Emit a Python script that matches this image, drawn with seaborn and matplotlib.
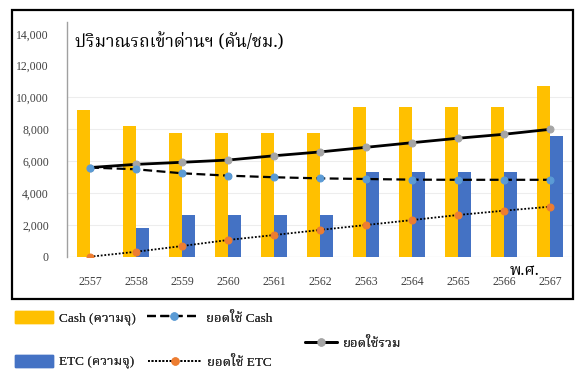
import numpy as np
import pandas as pd
import matplotlib
matplotlib.use("Agg")
import matplotlib.pyplot as plt
import seaborn as sns
from matplotlib import font_manager as fm
from matplotlib.ft2font import FT2Font
from matplotlib.patches import Rectangle
from matplotlib.lines import Line2D

# ---------------- data ----------------
years = ["2557", "2558", "2559", "2560", "2561", "2562", "2563", "2564", "2565", "2566", "2567"]
cash_capacity = [9200, 8200, 7800, 7800, 7800, 7800, 9400, 9400, 9400, 9400, 10700]
etc_capacity = [0, 1800, 2600, 2600, 2600, 2600, 5300, 5300, 5300, 5300, 7600]
cash_usage = [5600, 5490, 5240, 5090, 4990, 4920, 4880, 4840, 4830, 4830, 4830]
etc_usage = [0, 310, 670, 1050, 1360, 1680, 1990, 2300, 2620, 2890, 3140]
total_usage = [5600, 5800, 5930, 6070, 6340, 6580, 6870, 7160, 7440, 7690, 8000]
yticks = [0, 2000, 4000, 6000, 8000, 10000, 12000, 14000]

title = "ปริมาณรถเข้าด่านฯ (คัน/ชม.)"
lbl_cash_cap = "Cash (ความจุ)"
lbl_etc_cap = "ETC (ความจุ)"
lbl_cash_use = "ยอดใช้ Cash"
lbl_etc_use = "ยอดใช้ ETC"
lbl_total = "ยอดใช้รวม"
lbl_unit = "พ.ศ."

# ---------------- fonts ----------------
thai_fonts = []
for f in fm.fontManager.ttflist:
    try:
        cm = FT2Font(f.fname).get_charmap()
        if 0x0E01 in cm and f.name not in thai_fonts:
            thai_fonts.append(f.name)
    except Exception:
        pass
pref = [n for n in ["Noto Serif Thai", "Noto Sans Thai", "Loma", "Garuda", "Norasi", "Kinnari", "Tlwg Typo"] if n in thai_fonts]
thai = (pref + thai_fonts + ["DejaVu Sans"])[0]

sns.set_theme(style="white")
plt.rcParams["font.family"] = ["Liberation Serif", thai, "DejaVu Sans"]

W, H = 575, 371
fig = plt.figure(figsize=(W / 100, H / 100), dpi=100)
ax = fig.add_axes([67 / W, 1 - 256.7 / H, (573 - 67) / W, (256.7 - 21.7) / H])

bars = pd.DataFrame({
    "year": years * 2,
    "value": cash_capacity + etc_capacity,
    "kind": [lbl_cash_cap] * len(years) + [lbl_etc_cap] * len(years),
})
sns.barplot(data=bars, x="year", y="value", hue="kind",
            palette=["#FFC000", "#4472C4"], width=0.58, saturation=1,
            linewidth=0, ax=ax, legend=False, order=years)

CASH_LS = (0, (4, 2))
ETC_LS = (0, (1, 1))
pos = np.arange(len(years))
sns.lineplot(x=pos, y=total_usage, ax=ax, color="black", linewidth=2,
             marker="o", markersize=5, markerfacecolor="#A5A5A5", markeredgecolor="#A5A5A5")
sns.lineplot(x=pos, y=cash_usage, ax=ax, color="black", linewidth=1.6, linestyle=CASH_LS,
             marker="o", markersize=5, markerfacecolor="#5B9BD5", markeredgecolor="#5B9BD5")
sns.lineplot(x=pos, y=etc_usage, ax=ax, color="black", linewidth=1.3, linestyle=ETC_LS,
             marker="o", markersize=5, markerfacecolor="#ED7D31", markeredgecolor="#ED7D31")

ax.set_xlim(-0.5, len(years) - 0.5)
ax.set_ylim(0, 14760)
ax.set_yticks(yticks)
ax.set_yticklabels([f"{v:,}" for v in yticks], fontsize=8.5, color="#404040")
ax.tick_params(axis="y", pad=13, length=0)
ax.tick_params(axis="x", pad=14, length=0, labelsize=8.5, labelcolor="#404040")
ax.set_xlabel("")
ax.set_ylabel("")
for s in ["top", "right", "bottom"]:
    ax.spines[s].set_visible(False)
ax.spines["left"].set_color("#A0A0A0")
ax.spines["left"].set_linewidth(1.0)
ax.axhline(0, color="#BFBFBF", linewidth=0.8, zorder=0.5)
for v in yticks[1:]:
    if v <= 10000:
        ax.axhline(v, color="#EDEDED", linewidth=0.8, zorder=0.4)

ax.text(0.015, 0.91, title, transform=ax.transAxes, fontsize=12.5,
        family=[thai, "DejaVu Sans"], ha="left", va="center", color="black")
ax.text(9.45, -330, lbl_unit, fontsize=11.5, family=[thai, "DejaVu Sans"], weight="bold",
        ha="center", va="top", color="black")

# outer frame
fig.patches.append(Rectangle((12 / W, 1 - 299 / H), (573 - 12) / W, (299 - 10) / H,
                             transform=fig.transFigure, fill=False, edgecolor="black",
                             linewidth=1.6, zorder=10))

# legends (one entry each, placed like the reference)
fam = ["Liberation Serif", thai, "DejaVu Sans"]
h_cash_cap = Rectangle((0, 0), 1, 1, color="#FFC000")
h_etc_cap = Rectangle((0, 0), 1, 1, color="#4472C4")
h_cash_use = Line2D([], [], color="black", linewidth=1.6, linestyle=CASH_LS, marker="o",
                    markersize=5, markerfacecolor="#5B9BD5", markeredgecolor="#5B9BD5")
h_etc_use = Line2D([], [], color="black", linewidth=1.3, linestyle=ETC_LS, marker="o",
                   markersize=5, markerfacecolor="#ED7D31", markeredgecolor="#ED7D31")
h_total = Line2D([], [], color="black", linewidth=2, marker="o",
                 markersize=5, markerfacecolor="#A5A5A5", markeredgecolor="#A5A5A5")

FS = 9.5
em = FS * 100 / 72.0
entries = [
    (h_cash_cap, lbl_cash_cap, 15, 318, 38),
    (h_etc_cap, lbl_etc_cap, 15, 362, 38),
    (h_cash_use, lbl_cash_use, 147, 318, 53),
    (h_etc_use, lbl_etc_use, 148, 362, 53),
    (h_total, lbl_total, 305, 343, 32),
]
for h, lbl, x0, yc, hl in entries:
    leg = fig.legend([h], [lbl], loc="center left", bbox_to_anchor=(x0 / W, 1 - yc / H),
                     frameon=False, prop={"family": fam, "size": FS},
                     handlelength=hl / em, handleheight=13 / em, handletextpad=0.45,
                     borderpad=0, borderaxespad=0)
    fig.add_artist(leg)

fig.savefig("out.png", dpi=100)
